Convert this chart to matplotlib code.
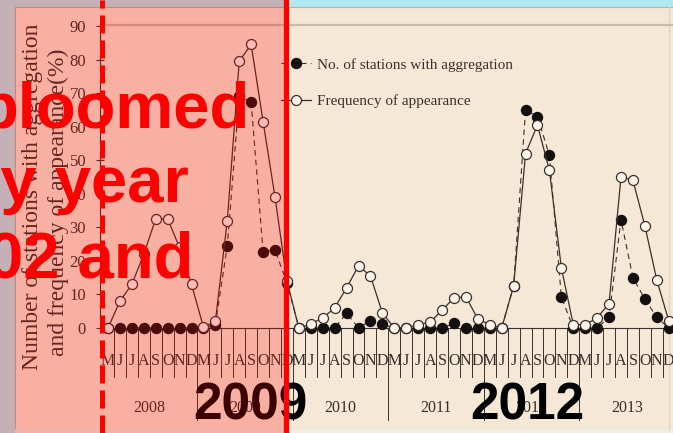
import numpy as np
import matplotlib
matplotlib.use("Agg")
import matplotlib.pyplot as plt
from matplotlib.patches import Rectangle
from matplotlib.lines import Line2D

plt.rcParams['lines.scale_dashes'] = False

# ------------------------------
# Data
# ------------------------------
years = [2008, 2009, 2010, 2011, 2012, 2013]
months = ['M', 'J', 'J', 'A', 'S', 'O', 'N', 'D']

# frequency of appearance (%), May-Dec of each year
freq = [0, 8, 13, 22, 32.5, 32.5, 24, 13,
        0.3, 2, 32, 79.5, 84.5, 61.5, 39, 14,
        0, 1.2, 3, 6, 12, 18.5, 15.5, 4.5,
        0, 0, 1, 1.7, 5.3, 9, 9.3, 2.7,
        1, 0, 12.5, 52, 60.5, 47, 18, 1,
        1, 3, 7.3, 45, 44, 30.5, 14.3, 2.2]

# number of stations with aggregation
stations = [0, 0, 0, 0, 0, 0, 0, 0,
            0, 1, 24.5, 69, 67.3, 22.7, 23.2, 13.5,
            0, 0, 0, 0, 4.4, 0, 2.2, 1.1,
            0, 0, 0, 0, 0, 1.4, 0, 0,
            0, 0, 12.5, 65, 63, 51.5, 9.3, 0,
            0, 0, 3.2, 32.3, 15, 8.6, 3.2, 0]

# ------------------------------
# Figure / page background
# ------------------------------
W, H = 673, 433
fig = plt.figure(figsize=(W / 100, H / 100), dpi=100)
fig.patch.set_facecolor('#b2e8f0')

def fx(px):
    return px / W

def fy(py):
    return 1 - py / H

# chart picture area
fig.patches.append(Rectangle((fx(15), fy(429)), 1, fy(7) - fy(429), transform=fig.transFigure,
                             facecolor='#f6e8d7', edgecolor='#b9b0a6', lw=0.8, zorder=-2))
fig.patches.append(Rectangle((fx(15), 0), 1, fy(429), transform=fig.transFigure,
                             facecolor='#f2ebe1', edgecolor='none', zorder=-2))
fig.lines.append(Line2D([fx(669), fx(669)], [fy(7), fy(429)], transform=fig.transFigure,
                        color='#e2d5c6', lw=1, zorder=-1))

ink = '#3a302b'
serif = 'Liberation Serif'

ax = fig.add_axes([fx(100), fy(328), (690 - 100) / W, (328 - 25) / H])
ax.set_facecolor('none')
x = np.arange(len(freq))
ax.set_xlim(-0.67, (690 - 108) / 11.93)
ax.set_ylim(0, 90.3)
ppu = 303 / 90.3  # pixels per y unit

ax.plot(x, stations, color=ink, lw=0.8, ls=(0, (4, 3)), marker='o', ms=7.2,
        mfc='#151010', mec='#151010', clip_on=False, zorder=3,
        label='No. of stations with aggregation')
ax.plot(x, freq, color=ink, lw=0.9, marker='o', ms=7.2, mfc='#fbf5ec', mec=ink,
        mew=0.9, clip_on=False, zorder=4, label='Frequency of appearance')

ax.spines['right'].set_visible(False)
ax.spines['top'].set_color('#c9b9a7')
ax.spines['top'].set_linewidth(1.6)
ax.spines['left'].set_color(ink)
ax.spines['bottom'].set_color(ink)
ax.set_yticks(np.arange(0, 91, 10))
ax.set_yticklabels([str(v) for v in range(0, 91, 10)], family=serif, fontsize=12, color=ink)
ax.tick_params(axis='y', direction='inout', length=6, color=ink, pad=7)
ax.set_xticks([])

# month separators and year boundaries below the axis
for i in range(len(freq) - 1):
    bottom = 420 if (i + 1) % 8 == 0 else 377
    ax.plot([i + 0.5, i + 0.5], [0, (328 - bottom) / ppu], color=ink, lw=0.7,
            clip_on=False)
for i, m in enumerate(months * len(years)):
    ax.text(i, (328 - 361) / ppu, m, ha='center', va='center', family=serif,
            fontsize=11.5, color=ink, clip_on=False)
for k, yr in enumerate(years):
    ax.text(8 * k + 3.5, (328 - 408) / ppu, str(yr), ha='center', va='center',
            family=serif, fontsize=11.5, color=ink, clip_on=False)

leg = ax.legend(loc='upper left', bbox_to_anchor=((267 - 100) / 590, (328 - 44) / 303),
                frameon=False, handlelength=2.0, handletextpad=0.4, labelspacing=1.5,
                prop={'family': serif, 'size': 11}, numpoints=1)
for t in leg.get_texts():
    t.set_color(ink)

# two-line y label
fig.text(fx(33), fy(197), 'Number of stations with aggregation', rotation=90,
         ha='center', va='center', family=serif, fontsize=17, color=ink)
fig.text(fx(58), fy(202), 'and frequency of appearance(%)', rotation=90,
         ha='center', va='center', family=serif, fontsize=17, color=ink)

# ------------------------------
# Slide annotations
# ------------------------------
bold = {'family': 'Liberation Sans', 'weight': 'bold'}
fig.text(fx(250), fy(420), '2009', ha='center', va='baseline', fontsize=37,
         color='black', zorder=5, **bold)
fig.text(fx(527), fy(420), '2012', ha='center', va='baseline', fontsize=37,
         color='black', zorder=5, **bold)

# translucent highlight box
fig.patches.append(Rectangle((0, 0), fx(285), 1, transform=fig.transFigure,
                             facecolor='red', alpha=0.24, edgecolor='none', zorder=6))

fig.lines.append(Line2D([fx(101.5), fx(101.5)], [0, 1], transform=fig.transFigure,
                        color='red', lw=3.6, dashes=(13, 5), zorder=7))
fig.lines.append(Line2D([fx(285.5), fx(285.5)], [0, 1], transform=fig.transFigure,
                        color='red', lw=3.8, zorder=7))

for txt, xr, yb in [('bloomed', 250, 127), ('ry year', 189, 202), ('02 and', 193, 278)]:
    fig.text(fx(xr), fy(yb), txt, ha='right', va='baseline', fontsize=47,
             color='red', zorder=8, **bold)

fig.savefig('out.png', dpi=100)
